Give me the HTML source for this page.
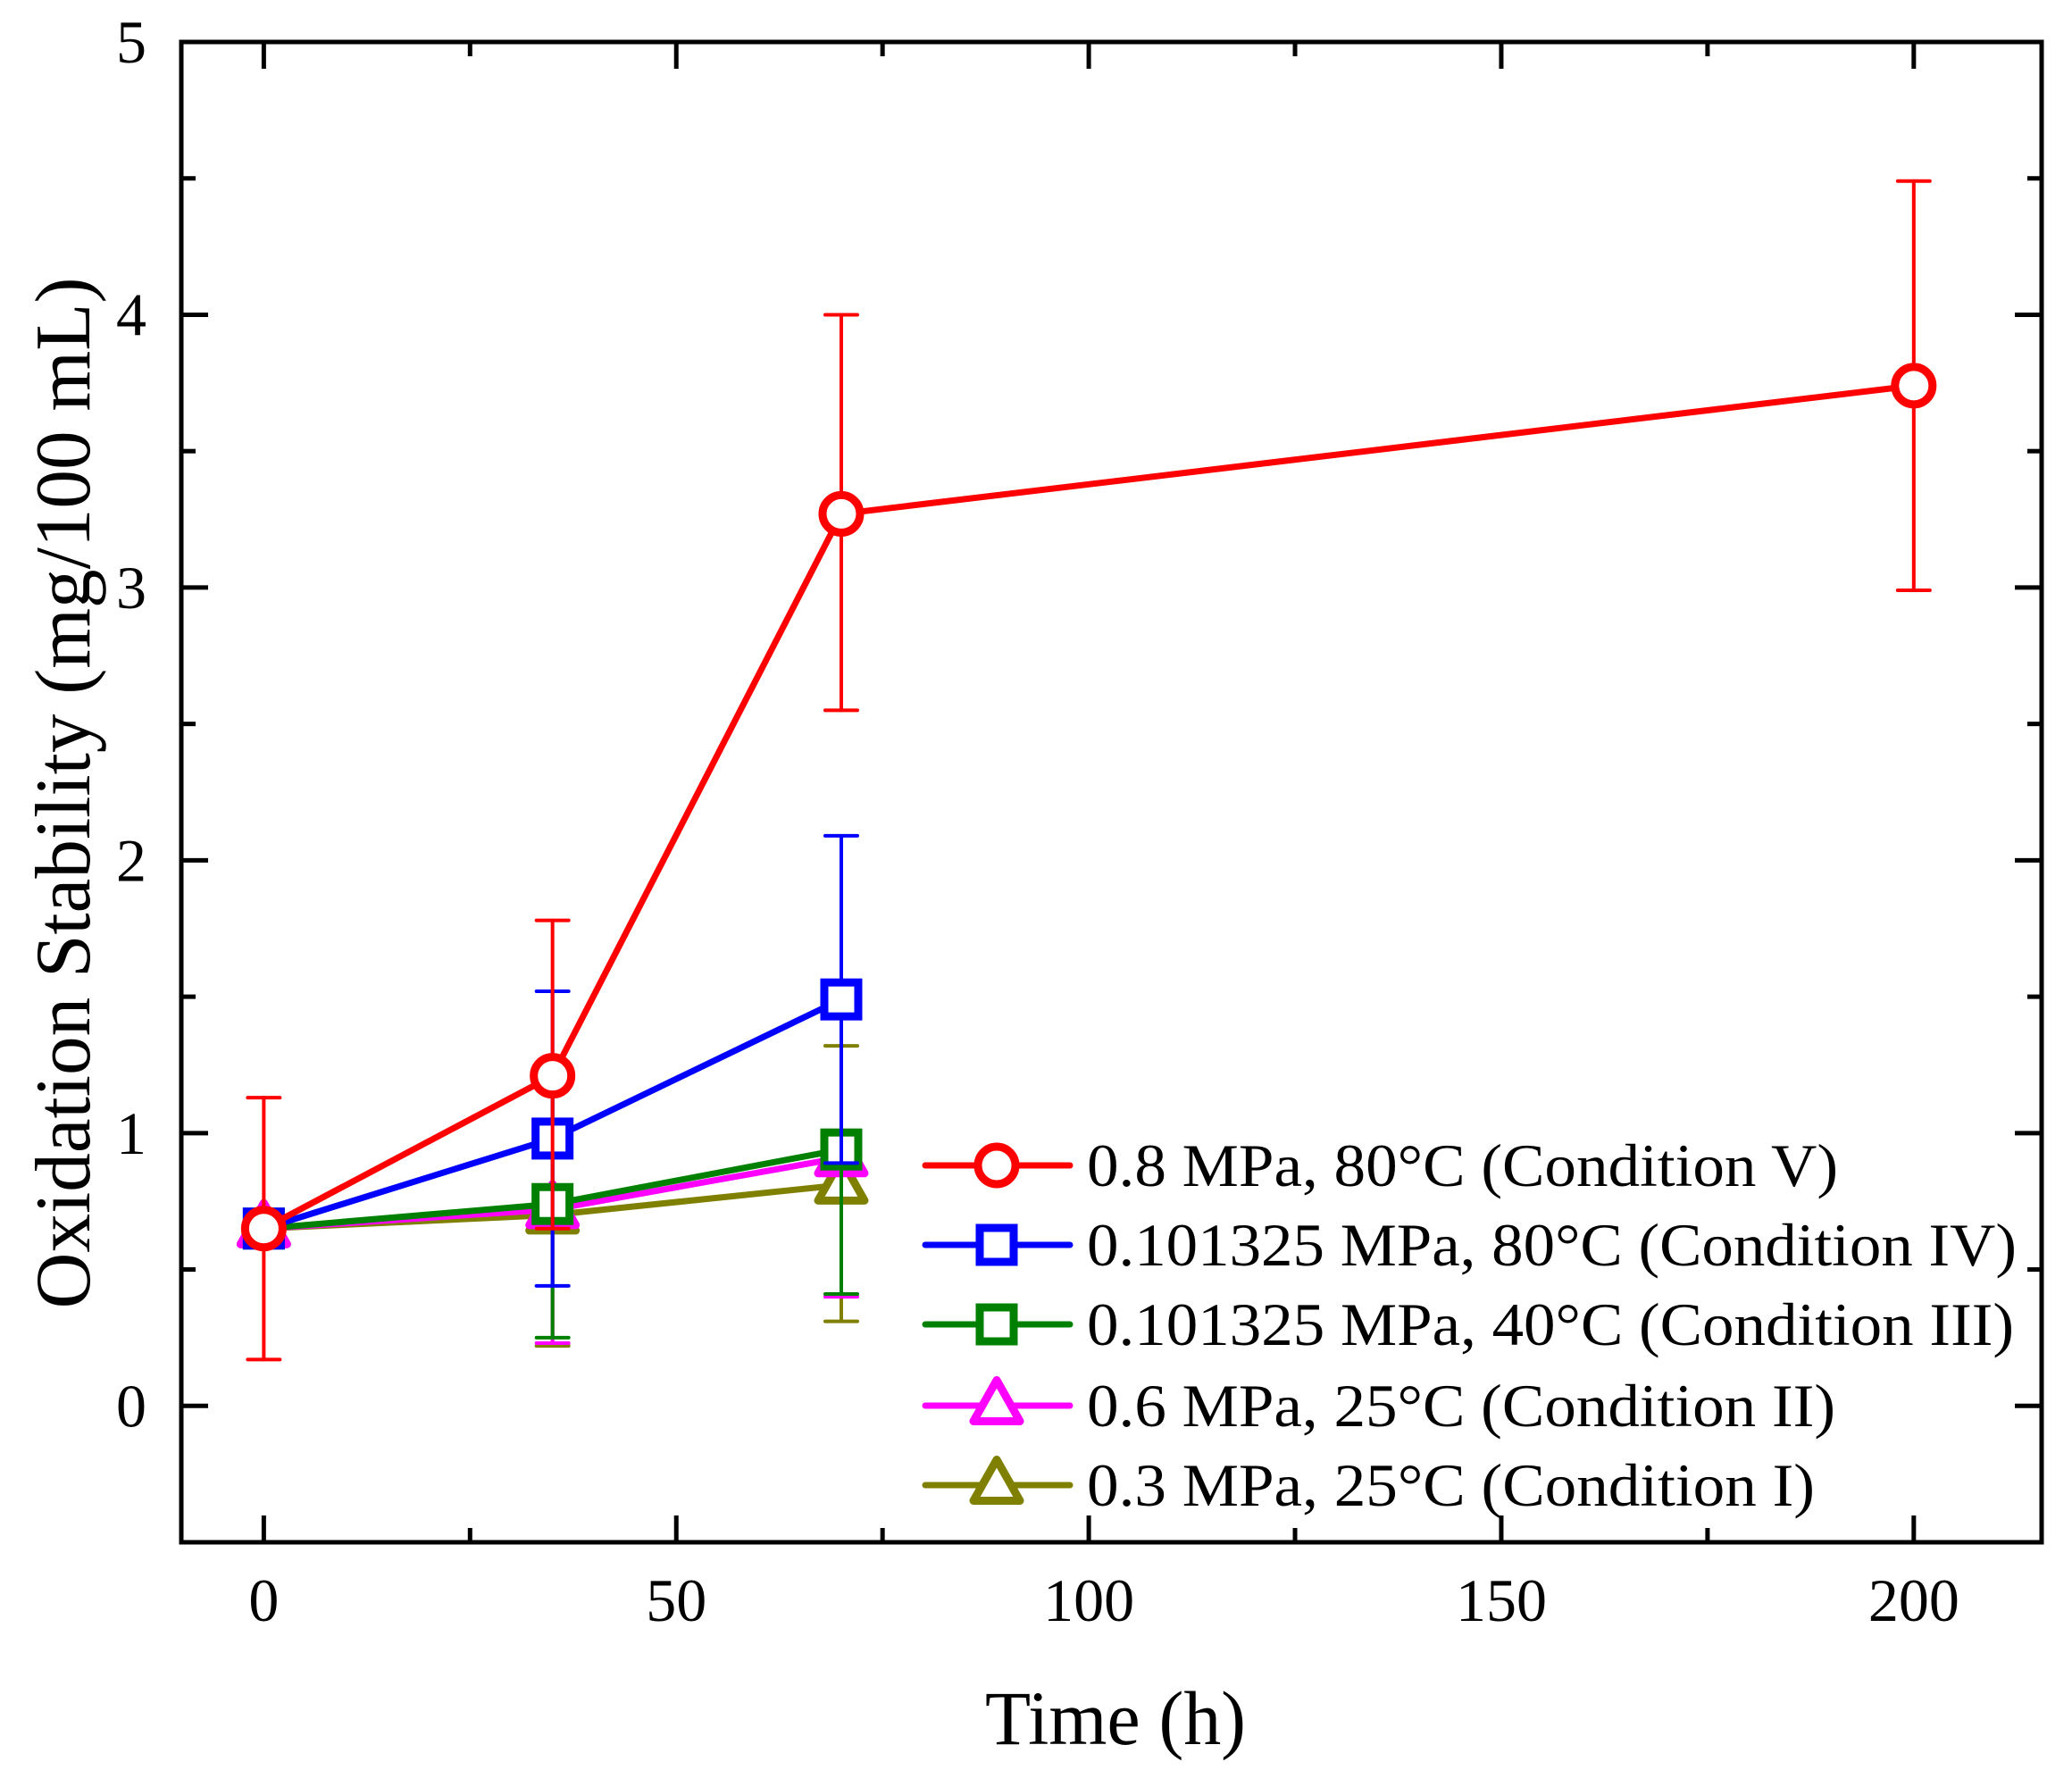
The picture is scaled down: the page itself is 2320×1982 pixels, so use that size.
<!DOCTYPE html>
<html><head><meta charset="utf-8"><style>
html,body{margin:0;padding:0;background:#fff;}
svg{display:block;font-family:"Liberation Serif","Times New Roman",serif;}
</style></head><body>
<svg id="chart" width="2320" height="1982" viewBox="0 0 2320 1982" xmlns="http://www.w3.org/2000/svg">
<rect x="0" y="0" width="2320" height="1982" fill="#fff"/>
<g id="marks"></g>
<g id="axes"></g>
<g id="legend"></g>
</svg>
<script>
// ---- data ----
const times = [0, 35, 70, 200];
const xTicks = [0, 50, 100, 150, 200];
const yTicks = [0, 1, 2, 3, 4, 5];
const seriesNames = ["0.8 MPa, 80°C (Condition V)", "0.101325 MPa, 80°C (Condition IV)", "0.101325 MPa, 40°C (Condition III)", "0.6 MPa, 25°C (Condition II)", "0.3 MPa, 25°C (Condition I)"];
const condV = [0.65, 1.21, 3.27, 3.74];
const condVLow = [0.17, 0.65, 2.55, 2.99];
const condVHigh = [1.13, 1.78, 4.00, 4.49];
const condIV = [0.65, 0.98, 1.49];
const condIVLow = [0.65, 0.44, 0.89];
const condIVHigh = [0.65, 1.52, 2.09];
const condIII = [0.65, 0.74, 0.94];
const condIIILow = [0.65, 0.25, 0.41];
const condIIIHigh = [0.65, 1.23, 1.47];
const condII = [0.65, 0.72, 0.91];
const condIILow = [0.65, 0.23, 0.40];
const condIIHigh = [0.65, 1.20, 1.45];
const condI = [0.65, 0.70, 0.81];
const condILow = [0.65, 0.22, 0.31];
const condIHigh = [0.65, 1.18, 1.32];

// ---- layout ----
const L = 203, R = 2286, T = 47, B = 1727;
const xMin = -10, xMax = 215.5, yMin = -0.5, yMax = 5;
const X = v => L + (v - xMin) / (xMax - xMin) * (R - L);
const Y = v => B - (v - yMin) / (yMax - yMin) * (B - T);
const NS = "http://www.w3.org/2000/svg";
function mk(tag, attrs, parent) {
  const e = document.createElementNS(NS, tag);
  for (const k in attrs) e.setAttribute(k, attrs[k]);
  parent.appendChild(e);
  return e;
}
const marks = document.getElementById('marks');
const axes = document.getElementById('axes');
const legend = document.getElementById('legend');

function marker(shape, cx, cy, color, parent) {
  let e;
  if (shape === 'circle') {
    e = mk('circle', {cx: cx, cy: cy, r: 21, fill: '#fff', stroke: color, 'stroke-width': 9}, parent);
  } else if (shape === 'square') {
    e = mk('rect', {x: cx - 19, y: cy - 19, width: 38, height: 38, fill: '#fff', stroke: color, 'stroke-width': 9}, parent);
  } else {
    const h = 46, w = 52;
    e = mk('polygon', {points: `${cx},${cy - h * 0.62} ${cx - w / 2},${cy + h * 0.38} ${cx + w / 2},${cy + h * 0.38}`, fill: '#fff', stroke: color, 'stroke-width': 9, 'stroke-linejoin': 'round'}, parent);
  }
  return e;
}

const series = [
  {key: 'condition-i', vals: condI, lo: condILow, hi: condIHigh, color: '#808000', shape: 'tri', name: seriesNames[4]},
  {key: 'condition-ii', vals: condII, lo: condIILow, hi: condIIHigh, color: '#ff00ff', shape: 'tri', name: seriesNames[3]},
  {key: 'condition-iii', vals: condIII, lo: condIIILow, hi: condIIIHigh, color: '#008000', shape: 'square', name: seriesNames[2]},
  {key: 'condition-iv', vals: condIV, lo: condIVLow, hi: condIVHigh, color: '#0000ff', shape: 'square', name: seriesNames[1]},
  {key: 'condition-v', vals: condV, lo: condVLow, hi: condVHigh, color: '#ff0000', shape: 'circle', name: seriesNames[0]}
];

series.forEach(s => {
  const g = mk('g', {}, marks);
  
  
  // error bars
  s.vals.forEach((v, i) => {
    const x = X(times[i]);
    const eb = mk('g', {stroke: s.color, 'stroke-width': 4, 'stroke-linecap': 'round'}, g);
    
    
    if (s.hi[i] !== s.lo[i]) {
      mk('line', {x1: x, x2: x, y1: Y(s.hi[i]), y2: Y(s.lo[i])}, eb);
      mk('line', {x1: x - 18, x2: x + 18, y1: Y(s.hi[i]), y2: Y(s.hi[i])}, eb);
      mk('line', {x1: x - 18, x2: x + 18, y1: Y(s.lo[i]), y2: Y(s.lo[i])}, eb);
    }
  });
  const pts = s.vals.map((v, i) => X(times[i]) + ',' + Y(v)).join(' ');
  const pl = mk('polyline', {points: pts, fill: 'none', stroke: s.color, 'stroke-width': 7, 'stroke-linejoin': 'round'}, g);
  
  
  s.vals.forEach((v, i) => {
    const m = marker(s.shape, X(times[i]), Y(v), s.color, g);
    
    
  });
});

// ---- axes frame & ticks ----
const frame = mk('rect', {x: L, y: T, width: R - L, height: B - T, fill: 'none', stroke: '#000', 'stroke-width': 5}, axes);


const tk = mk('g', {stroke: '#000', 'stroke-width': 5}, axes);


for (let v = 0; v <= 200; v += 25) {
  const len = v % 50 === 0 ? 30 : 16;
  mk('line', {x1: X(v), x2: X(v), y1: B, y2: B - len}, tk);
  mk('line', {x1: X(v), x2: X(v), y1: T, y2: T + len}, tk);
}
for (let v = -0.5; v <= 5; v += 0.5) {
  const len = Math.abs(v - Math.round(v)) < 1e-6 ? 30 : 16;
  mk('line', {x1: L, x2: L + len, y1: Y(v), y2: Y(v)}, tk);
  mk('line', {x1: R, x2: R - len, y1: Y(v), y2: Y(v)}, tk);
}
xTicks.forEach(v => {
  const t = mk('text', {x: X(v), y: 1815, 'font-size': 68, 'text-anchor': 'middle', fill: '#000'}, axes);
  t.textContent = v;
  
  
});
yTicks.forEach(v => {
  const t = mk('text', {x: 164, y: Y(v) + 23, 'font-size': 68, 'text-anchor': 'end', fill: '#000'}, axes);
  t.textContent = v;
  
  
});
const xt = mk('text', {x: 1249, y: 1953, 'font-size': 86, 'text-anchor': 'middle', fill: '#000', textLength: 292, lengthAdjust: 'spacingAndGlyphs'}, axes);
xt.textContent = 'Time (h)';


const yt = mk('text', {x: 0, y: 0, 'font-size': 88, 'text-anchor': 'middle', fill: '#000', textLength: 1155, lengthAdjust: 'spacingAndGlyphs', transform: 'translate(100,888) rotate(-90)'}, axes);
yt.textContent = 'Oxidation Stability (mg/100 mL)';



// ---- legend ----
const rowsY = [1305, 1394, 1483, 1574, 1663];
const legendOrder = [4, 3, 2, 1, 0];
const textLens = [841, 1041, 1038, 838, 815];
legendOrder.forEach((si, r) => {
  const s = series[si];
  const g = mk('g', {}, legend);
  
  
  const y = rowsY[r];
  mk('line', {x1: 1036, x2: 1198, y1: y, y2: y, stroke: s.color, 'stroke-width': 7, 'stroke-linecap': 'round'}, g);
  marker(s.shape, 1116, y, s.color, g);
  const t = mk('text', {x: 1217, y: y + 23, 'font-size': 68, fill: '#000', textLength: textLens[r], lengthAdjust: 'spacingAndGlyphs'}, g);
  t.textContent = s.name;
});
</script>
</body></html>
